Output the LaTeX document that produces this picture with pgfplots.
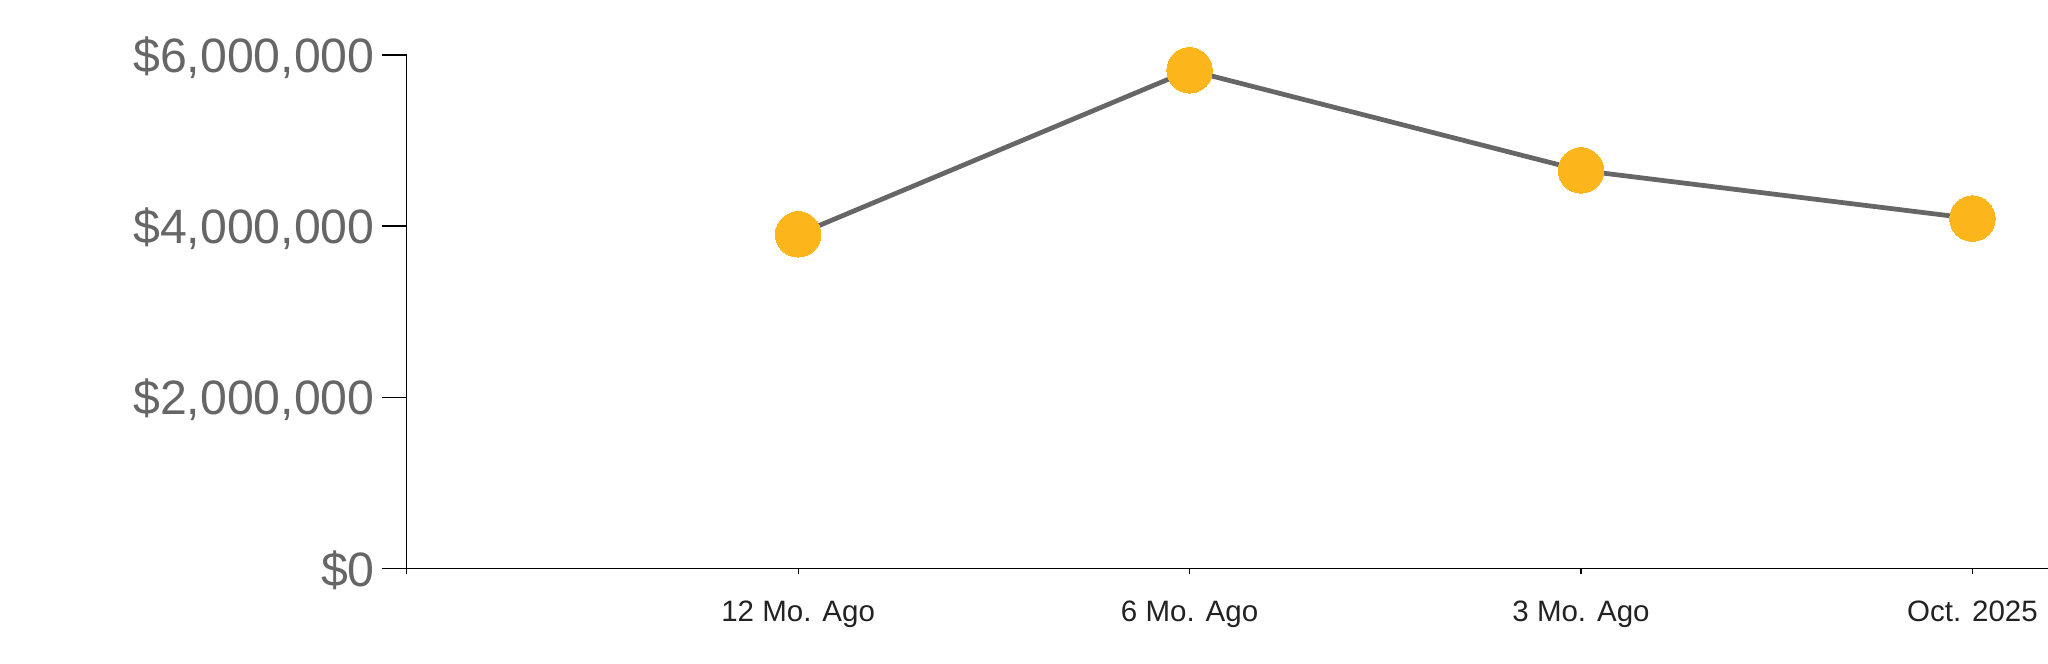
\documentclass[border=0pt]{standalone}
\usepackage{pgfplots}
\pgfplotsset{compat=1.18}
\usepackage{fontspec}
\setmainfont{Liberation Sans}
\definecolor{markc}{HTML}{FCB51B}
\definecolor{linec}{HTML}{666666}
\definecolor{ylab}{HTML}{666666}
\definecolor{xlab}{HTML}{222222}
\pgfplotsset{
  base/.style={
    scale only axis, width=656.52pt, height=205.32pt,
    xmin=0, xmax=4.193, ymin=0, ymax=6000000,
    clip=false, scaled y ticks=false,
    axis line style={black, line width=0.5pt},
    tick style={black, line width=0.5pt},
    tick align=outside,
  },
}
\begin{document}
\begin{tikzpicture}
\useasboundingbox (-162.68pt,-37.88pt) rectangle (656.52pt,227.32pt);
% y axis with its long ticks
\begin{axis}[base,
  axis y line*=left, axis x line=none,
  major tick length=10pt,
  ytick={0,2000000,4000000,6000000},
  yticklabels={{\$0},{\$2,000,000},{\$4,000,000},{\$6,000,000}},
  yticklabel style={font=\fontsize{19.3pt}{22pt}\selectfont, text=ylab, inner sep=0pt, xshift=-2.6pt, yshift=-1pt},
  xtick=\empty,
]
\end{axis}
% x axis and data
\begin{axis}[base,
  axis x line*=bottom, axis y line=none,
  major tick length=2.4pt,
  xtick={0,1,2,3,4},
  xticklabels={{},{12 Mo. Ago},{6 Mo. Ago},{3 Mo. Ago},{Oct. 2025}},
  xticklabel style={font=\fontsize{11.8pt}{14pt}\selectfont, text=xlab, yshift=-7pt},
  ytick=\empty,
]
\addplot[color=linec, line width=1.9pt, mark=*, mark size=9.1pt,
  mark options={fill=markc, draw=markc, line width=0pt}]
  coordinates {(1,3904000) (2,5821000) (3,4651000) (4,4088000)};
\end{axis}
\end{tikzpicture}
\end{document}
